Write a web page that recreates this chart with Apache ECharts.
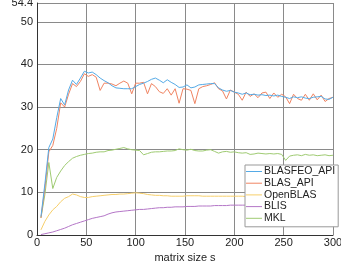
<!DOCTYPE html>
<html><head><meta charset="utf-8">
<script src="https://cdn.jsdelivr.net/npm/echarts@6/dist/echarts.min.js"></script>
<style>html,body{margin:0;padding:0;background:#fff}#c{width:341px;height:263px}</style>
</head><body><div id="c"></div>
<script>
const sizes = [];
for (let s = 4; s <= 300; s += 4) sizes.push(s);
const blasfeoApi = [4.3,12,20.5,22.5,27.5,32,30.5,34,36.3,35.3,36.8,38.4,38.0,38.2,37.6,36.8,36.2,35.7,35.0,34.5,34.4,34.3,34.3,34.3,34.8,35.3,35.6,36.0,36.5,36.8,36.3,35.7,36.4,35.8,35.3,34.6,34.7,35.2,34.5,34.7,35.2,35.3,35.4,35.5,35.5,34.5,34.0,33.7,33.9,33.5,33.3,33.0,33.3,32.9,33.0,32.8,32.9,32.7,32.8,32.6,32.8,32.5,32.3,32.0,32.4,32.2,32.4,32.1,32.0,32.3,32.4,32.5,31.9,31.8,32.3];
const blasApi = [4,11,19.5,21,25,31,30,33,35.5,34.8,36,37.8,37.2,37.6,37.0,33.9,35.6,35.6,35.4,35.0,35.6,36.1,35.6,33.1,35.6,35.6,35.8,33.1,35.5,34.8,33.6,33.2,34.3,32.8,34.3,30.9,34.3,34.2,33.9,30.8,34.3,34.8,35.0,35.3,35.7,34.3,33.8,31.9,34.0,33.5,33.0,31.6,33.5,32.5,33.1,32.2,33.3,33.5,32.0,33.3,32.3,33.0,32.4,30.8,33.0,32.0,31.6,33.0,31.6,33.1,31.7,32.8,31.3,32.0,32.3];
const openBlas = [1.2,3.2,4.7,5.9,6.7,7.8,8.6,9.0,9.6,9.4,9.0,8.8,8.8,9.0,9.1,9.2,9.3,9.4,9.5,9.5,9.6,9.6,9.7,9.8,9.9,9.8,9.7,9.5,9.4,9.3,9.3,9.2,9.2,9.1,9.1,9.1,9.1,9.2,9.2,9.2,9.2,9.1,9.1,9.1,9.1,9.1,9.1,9.1,9.1,9.1,9.1,9.1,9.0,9.0,8.9,8.9,8.8,8.8,8.8,8.8,8.7,8.7,8.7,8.7,8.7,8.7,8.7,8.6,8.6,8.6,8.6,8.6,8.6,8.6,8.6];
const blis = [0.1,0.3,0.5,0.7,1.0,1.3,1.6,2.0,2.4,2.7,3.0,3.3,3.6,3.9,4.1,4.3,4.5,4.9,5.2,5.4,5.5,5.6,5.7,5.8,5.9,6.0,6.0,6.1,6.2,6.3,6.4,6.4,6.5,6.5,6.6,6.6,6.6,6.7,6.7,6.7,6.8,6.8,6.8,6.8,6.9,6.9,6.9,6.9,7.0,7.0,7.0,7.0,7.0,7.1,7.1,7.2,7.2,7.2,7.2,7.3,7.3,7.3,7.3,7.3,7.4,7.4,7.4,7.4,7.4,7.4,7.5,7.5,7.5,7.5,7.5];
const mkl = [4,9.5,17,10.9,13.5,15,16.3,17.2,18,18.4,18.7,18.9,19.1,19.2,19.4,19.5,19.5,19.8,19.9,20.1,20.3,20.5,20.2,20.0,19.9,19.8,18.8,19.1,19.4,19.5,19.5,19.6,19.7,19.7,19.8,20.2,20.0,19.9,20.1,19.8,19.7,19.7,19.9,20.0,19.6,19.2,19.5,19.6,19.4,19.5,19.3,19.2,19.3,18.9,19.0,19.2,19.1,19.0,19.1,19.0,19.1,18.9,17.5,18.5,18.7,18.8,18.6,18.9,18.7,18.8,18.6,18.7,18.8,18.6,18.7];
const seriesNames = ['BLASFEO_API','BLAS_API','OpenBLAS','BLIS','MKL'];
const seriesData = [blasfeoApi, blasApi, openBlas, blis, mkl];
const colors = ['#55aae6','#f08462','#f7cf6a','#b476c7','#9fcb72'];

const chart = echarts.init(document.getElementById('c'), null, {renderer:'canvas'});
const font = 'Liberation Sans';
chart.setOption({
  animation: false,
  backgroundColor: '#fff',
  grid: {left: 37, right: 8, top: 3, bottom: 28, containLabel: false, outerBoundsMode: 'none'},
  xAxis: {
    type: 'value', min: 0, max: 300, interval: 50,
    name: 'matrix size s', nameLocation: 'middle', nameGap: 17,
    nameTextStyle: {fontFamily: font, fontSize: 11, color: '#222'},
    axisLine: {show: true, lineStyle: {color: '#333', width: 1}},
    axisTick: {show: false},
    axisLabel: {fontFamily: font, fontSize: 11, color: '#222', margin: 2},
    splitLine: {show: true, lineStyle: {color: '#8a8a8a', width: 1}}
  },
  yAxis: {
    type: 'value', min: 0, max: 54.4, interval: 10,
    name: 'Gflops', nameLocation: 'middle', nameGap: 25, nameRotate: 90,
    nameTextStyle: {fontFamily: font, fontSize: 11, color: '#222'},
    axisLine: {show: true, lineStyle: {color: '#333', width: 1}},
    axisTick: {show: false},
    axisLabel: {fontFamily: font, fontSize: 11, color: '#222', margin: 4,
      formatter: v => (Math.abs(v - 54.4) < 1e-6 ? '54.4' : String(v))},
    splitLine: {show: true, lineStyle: {color: '#8a8a8a', width: 1}}
  },
  legend: {
    orient: 'vertical', left: 245, top: 165,
    backgroundColor: '#fff', borderColor: '#999', borderWidth: 1,
    padding: [1, 3, 3, 1], itemGap: 0.7, itemWidth: 16, itemHeight: 12,
    icon: 'path://M0,5.5 L16,5.5 L16,6.5 L0,6.5 Z',
    textStyle: {fontFamily: font, fontSize: 10.5, color: '#222', padding: [0,0,0,-3]},
    data: seriesNames.map((n, i) => ({name: n, itemStyle: {color: colors[i]}}))
  },
  series: seriesNames.map((n, i) => ({
    name: n, type: 'line', symbol: 'none', showSymbol: false,
    data: sizes.map((s, j) => [s, seriesData[i][j]]),
    lineStyle: {color: colors[i], width: 1},
    itemStyle: {color: colors[i]},
    z: 5 - i
  }))
});
</script></body></html>
